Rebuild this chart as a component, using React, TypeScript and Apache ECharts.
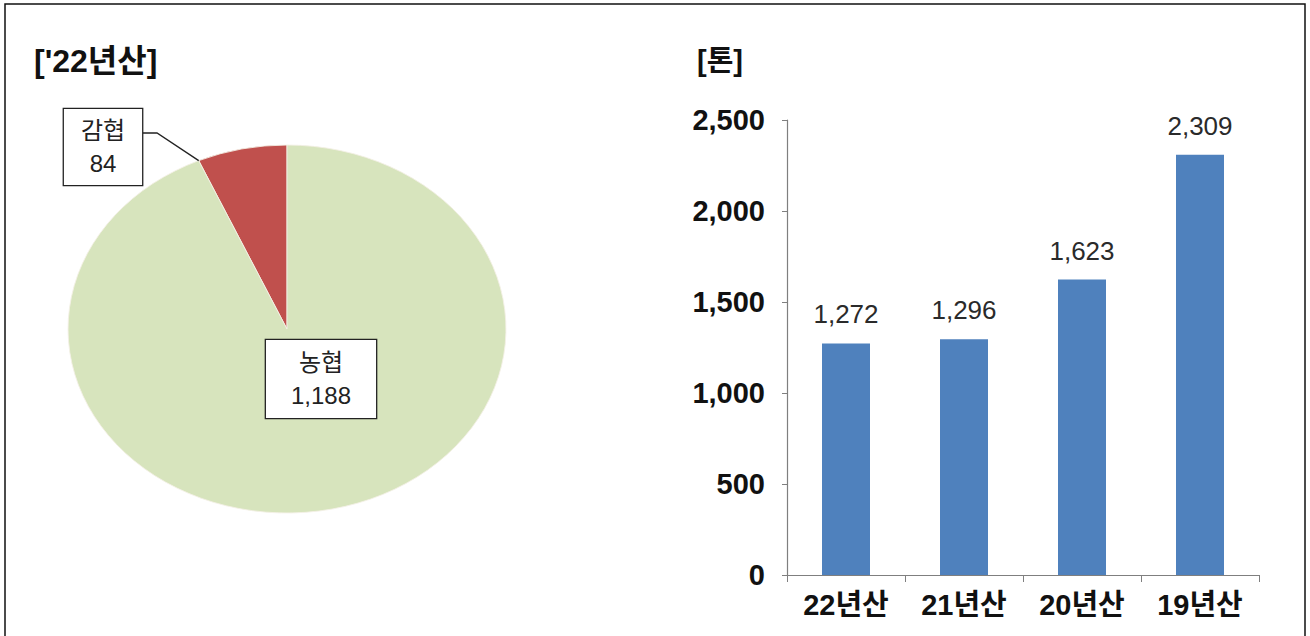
import React, { useEffect, useRef } from "react";
import * as echarts from "echarts";

// ---- data ----
const pieTitle = "['22년산]";
const pieNames = ["감협", "농협"];
const pieValues = [84, 1188];

const unitLabel = "[톤]";
const barCategories = ["22년산", "21년산", "20년산", "19년산"];
const barValues = [1272, 1296, 1623, 2309];
const yMin = 0;
const yMax = 2500;
const yInterval = 500;

// ---- styling / layout ----
const pieColors = ["#c0504d", "#d7e4bd"];
const barColor = "#4f81bd";
const PIE = { cx: 287, cy: 329, rx: 219, ry: 184 };
const labelLayout = [
  { dx: -184, dy: -182, padding: [5, 17] },
  { dx: 34, dy: 50, padding: [6, 25] },
];
const KR = "'Liberation Sans', 'Noto Sans CJK KR', sans-serif";

const fmt = (v: number) => Math.round(v).toLocaleString("en-US");

export default function App() {
  const ref = useRef<HTMLDivElement>(null);

  useEffect(() => {
    document.body.style.margin = "0";
    const chart = echarts.init(ref.current!, undefined, { renderer: "svg" });
    const total = pieValues.reduce((a, b) => a + b, 0);

    const option: any = {
      animation: false,
      backgroundColor: "#ffffff",
      graphic: [
        {
          type: "rect",
          silent: true,
          shape: { x: 5, y: 4, width: 1300, height: 660 },
          style: { fill: "none", stroke: "#111", lineWidth: 1.5 },
        },
        {
          type: "text",
          left: 34,
          top: 45,
          style: {
            text: pieTitle,
            font: `bold 32px ${KR}`,
            fill: "#111",
          },
        },
        {
          type: "text",
          left: 697,
          top: 46,
          style: {
            text: unitLabel,
            font: `bold 29px ${KR}`,
            fill: "#111",
          },
        },
      ],
      grid: { left: 787, right: 51, top: 120, bottom: 61, containLabel: false },
      xAxis: {
        type: "category",
        data: barCategories,
        axisLine: { show: true, lineStyle: { color: "#7f7f7f", width: 1.2 } },
        axisTick: { show: true, length: 7, alignWithLabel: false, lineStyle: { color: "#7f7f7f" } },
        axisLabel: {
          margin: 15,
          fontSize: 29,
          fontWeight: "bold",
          fontFamily: KR,
          color: "#111",
        },
        splitLine: { show: false },
      },
      yAxis: {
        type: "value",
        min: yMin,
        max: yMax,
        interval: yInterval,
        axisLine: { show: true, lineStyle: { color: "#7f7f7f", width: 1.2 } },
        axisTick: { show: true, length: 5, lineStyle: { color: "#7f7f7f" } },
        axisLabel: {
          margin: 22,
          fontSize: 29,
          fontWeight: "bold",
          fontFamily: KR,
          color: "#111",
          formatter: (v: number) => fmt(v),
        },
        splitLine: { show: false },
      },
      series: [
        {
          type: "bar",
          data: barValues,
          barWidth: 48,
          itemStyle: { color: barColor },
          label: {
            show: true,
            position: "top",
            distance: 16,
            fontSize: 26,
            fontFamily: KR,
            color: "#2a2a2a",
            formatter: (p: any) => fmt(p.value),
          },
        },
        {
          type: "custom",
          coordinateSystem: "none",
          data: pieValues.map((v, i) => ({ name: pieNames[i], value: [i, v] })),
          renderItem: (params: any, api: any) => {
            const i = params.dataIndex;
            let a0 = 0;
            for (let k = 0; k < i; k++) a0 += (pieValues[k] / total) * Math.PI * 2;
            const a1 = a0 + (api.value(1) / total) * Math.PI * 2;
            const children: any[] = [
              {
                type: "sector",
                x: PIE.cx,
                y: PIE.cy,
                scaleX: PIE.rx / PIE.ry,
                shape: {
                  cx: 0,
                  cy: 0,
                  r0: 0,
                  r: PIE.ry,
                  startAngle: -Math.PI / 2 - a1,
                  endAngle: -Math.PI / 2 - a0,
                  clockwise: true,
                },
                style: { fill: pieColors[i], stroke: "#f4f0e6", lineWidth: 0.8 },
              },
            ];
            const lay = labelLayout[i];
            const lx = PIE.cx + lay.dx;
            const ly = PIE.cy + lay.dy;
            children.push({
              type: "text",
              x: lx,
              y: ly,
              z2: 10,
              style: {
                text: pieNames[i] + "\n" + fmt(api.value(1)),
                fontSize: 24,
                fontFamily: KR,
                lineHeight: 33,
                fill: "#222",
                align: "center",
                verticalAlign: "middle",
                backgroundColor: "#fff",
                borderColor: "#222",
                borderWidth: 1.3,
                padding: lay.padding,
              },
            });
            if (i === 0) {
              const ex = PIE.cx - PIE.rx * Math.sin(a1);
              const ey = PIE.cy - PIE.ry * Math.cos(a1);
              children.push({
                type: "polyline",
                z2: 5,
                shape: {
                  points: [
                    [143, ly - 14],
                    [157, ly - 14],
                    [ex, ey],
                  ],
                },
                style: { fill: "none", stroke: "#222", lineWidth: 1.3 },
              });
            }
            return { type: "group", children };
          },
        },
      ],
    };

    chart.setOption(option);
    return () => chart.dispose();
  }, []);

  return <div ref={ref} style={{ width: 1310, height: 636 }} />;
}
